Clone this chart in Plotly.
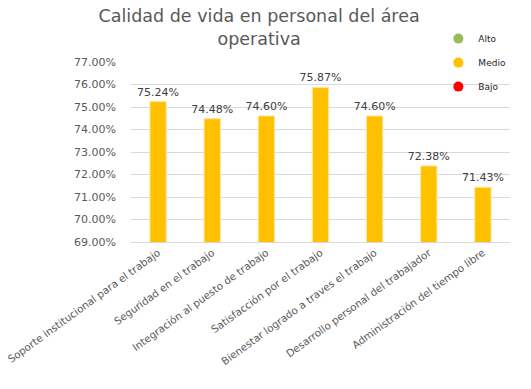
import plotly.graph_objects as go

categories = [
    "Soporte institucional para el trabajo",
    "Seguridad en el trabajo",
    "Integración al puesto de trabajo",
    "Satisfacción por el trabajo",
    "Bienestar logrado a traves el trabajo",
    "Desarrollo personal del trabajador",
    "Administración del tiempo libre",
]
values = [75.24, 74.48, 74.60, 75.87, 74.60, 72.38, 71.43]
legend_names = ["Alto", "Medio", "Bajo"]
legend_colors = ["#9BBB59", "#FFC000", "#FF0000"]
tick_vals = [69, 70, 71, 72, 73, 74, 75, 76, 77]
tick_text = [f"{v:.2f}%" for v in tick_vals]

FONT = "DejaVu Sans"

fig = go.Figure()
fig.add_trace(go.Bar(
    x=categories, y=values,
    marker=dict(color="#FFC000", line=dict(color="#FFE699", width=1)),
    width=0.3,
    text=[f"{v:.2f}%" for v in values],
    textposition="outside",
    constraintext="none",
    textfont=dict(family=FONT, size=11, color="#404040"),
    cliponaxis=False,
    showlegend=False,
))
for i, (n, c) in enumerate(zip(legend_names, legend_colors)):
    fig.add_trace(go.Scatter(
        x=[None], y=[None], mode="markers", name=n,
        marker=dict(color=c, size=10),
        legendgroup=n, showlegend=True,
    ))

fig.update_layout(
    width=531, height=389,
    margin=dict(l=131, r=21, t=62, b=147, autoexpand=False),
    paper_bgcolor="white", plot_bgcolor="white",
    title=dict(
        text="Calidad de vida en personal del área<br>operativa",
        x=0.488, xanchor="center", y=0.944, yanchor="top",
        font=dict(family=FONT, size=17.5, color="#595959"),
    ),
    legend=dict(
        x=0.811, y=1.2106, xanchor="left", yanchor="top",
        font=dict(family=FONT, size=9, color="#262626"),
        bgcolor="rgba(0,0,0,0)",
        traceorder="grouped", tracegroupgap=5,
    ),
    bargap=0.7,
    showlegend=True,
)
fig.update_yaxes(
    range=[69, 77], tickvals=tick_vals, ticktext=tick_text,
    showgrid=True, gridcolor="#D9D9D9", gridwidth=1,
    zeroline=False, showline=False, automargin=False,
    tickfont=dict(family=FONT, size=11, color="#595959"),
    ticklabelstandoff=14,
)
fig.update_xaxes(
    tickangle=-36, automargin=False,
    tickfont=dict(family=FONT, size=10.3, color="#595959"),
    showline=True, linecolor="#D9D9D9", linewidth=1,
    ticks="",
)

fig.write_html(
    "out.html",
    config={"displayModeBar": False},
    post_script="document.body.style.margin='0';document.documentElement.style.overflow='hidden';",
)
